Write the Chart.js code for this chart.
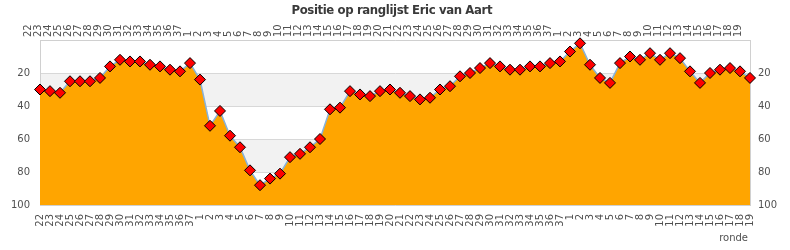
<!DOCTYPE html>
<html>
<head>
<meta charset="utf-8">
<script src="https://cdn.jsdelivr.net/npm/chart.js@4/dist/chart.umd.min.js"></script>
<style>
  body { margin: 0; background: #fff; }
  #wrap { width: 790px; height: 250px; }
</style>
</head>
<body>
<div id="wrap"><canvas id="myChart1"></canvas></div>
<script>
const rondes = [
  '22','23','24','25','26','27','28','29','30','31','32','33','34','35','36','37',
  '1','2','3','4','5','6','7','8','9','10','11','12','13','14','15','16','17','18','19',
  '20','21','22','23','24','25','26','27','28','29','30','31','32','33','34','35','36','37',
  '1','2','3','4','5','6','7','8','9','10','11','12','13','14','15','16','17','18','19'
];

const posities = [
  30, 31, 32, 25, 25, 25, 23, 16, 12, 13, 13, 15, 16, 18, 19, 14,
  24, 52, 43, 58, 65, 79, 88, 84, 81, 71, 69, 65, 60, 42, 41, 31, 33, 34, 31,
  30, 32, 34, 36, 35, 30, 28, 22, 20, 17, 14, 16, 18, 18, 16, 16, 14, 13,
  7, 2, 15, 23, 26, 14, 10, 12, 8, 12, 8, 11, 19, 26, 20, 18, 17, 19, 23
];

const yTicks = [0, 20, 40, 60, 80, 100];
const bands = [[20, 40], [60, 80]];

const title = 'Positie op ranglijst Eric van Aart';
const xTitle = 'ronde';

const tickFont = { family: 'DejaVu Sans', size: 10 };
const tickColor = '#505050';

// gray bands behind the plot
const bandPlugin = {
  id: 'bands',
  beforeDraw(chart) {
    const { ctx, chartArea } = chart;
    const y = chart.scales.y;
    ctx.save();
    ctx.fillStyle = '#f2f2f2';
    bands.forEach(b => {
      const top = y.getPixelForValue(b[0]);
      const bot = y.getPixelForValue(b[1]);
      ctx.fillRect(chartArea.left, top, chartArea.right - chartArea.left, bot - top);
    });
    ctx.restore();
  }
};

// title + axis name drawn on top (title overlaps the top labels)
const textPlugin = {
  id: 'texts',
  afterDraw(chart) {
    const { ctx, chartArea } = chart;
    ctx.save();
    ctx.fillStyle = '#3a3a3a';
    ctx.font = 'bold 13px "DejaVu Sans Condensed", "DejaVu Sans"';
    ctx.textBaseline = 'middle';
    ctx.textAlign = 'center';
    const target = 201;
    const w = ctx.measureText(title).width;
    const sp = (target - w) / (title.length - 1);
    if ('letterSpacing' in ctx) ctx.letterSpacing = sp + 'px';
    ctx.fillText(title, 392 + sp / 2, 11);
    if ('letterSpacing' in ctx) ctx.letterSpacing = '0px';
    ctx.font = '10px "DejaVu Sans"';
    ctx.fillStyle = tickColor;
    ctx.textAlign = 'right';
    ctx.fillText(xTitle, chartArea.right - 2, 238);
    ctx.restore();
  }
};

const xAxis = (pos, pad, h) => ({
  type: 'category',
  position: pos,
  labels: rondes,
  offset: false,
  grid: { display: false, drawTicks: false },
  border: { display: true, color: '#d0d0d0' },
  ticks: {
    autoSkip: false,
    maxRotation: 90,
    minRotation: 90,
    padding: pad,
    font: tickFont,
    color: tickColor
  },
  afterFit(scale) { scale.height = h; }
});

const yAxis = (pos, pad, grid) => ({
  position: pos,
  reverse: true,
  min: 0,
  max: 100,
  afterBuildTicks(scale) { scale.ticks = yTicks.map(v => ({ value: v })); },
  grid: { display: grid, color: '#d8d8d8', drawTicks: false },
  border: { display: true, color: '#d0d0d0' },
  ticks: {
    padding: pad,
    font: tickFont,
    color: tickColor,
    callback: v => (v === 0 ? '' : v)
  },
  afterFit(scale) { scale.width = 40; }
});

const config = {
  type: 'line',
  data: {
    labels: rondes,
    datasets: [{
      data: posities,
      xAxisID: 'x',
      yAxisID: 'y',
      borderColor: '#86b2dc',
      borderWidth: 1.5,
      backgroundColor: '#ffa500',
      fill: { value: 100 },
      tension: 0,
      clip: false,
      pointStyle: 'rectRot',
      pointRadius: 5.5,
      pointBackgroundColor: '#ff0000',
      pointBorderColor: '#000',
      pointBorderWidth: 1
    }]
  },
  options: {
    responsive: true,
    maintainAspectRatio: false,
    animation: false,
    layout: { padding: 0 },
    plugins: {
      legend: { display: false },
      tooltip: { enabled: false },
      title: { display: false }
    },
    scales: {
      x: xAxis('bottom', 9, 45),
      x2: xAxis('top', 3, 40),
      y: yAxis('left', 10, true),
      y2: yAxis('right', 8, false)
    }
  },
  plugins: [bandPlugin, textPlugin]
};

new Chart(document.getElementById('myChart1').getContext('2d'), config);
</script>
</body>
</html>
